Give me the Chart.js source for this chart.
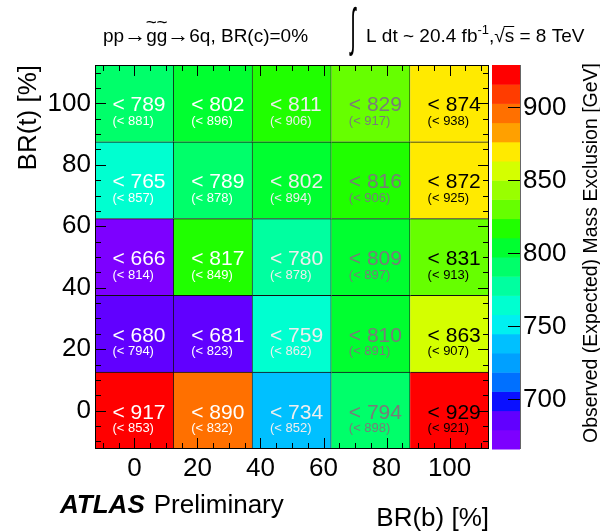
<!DOCTYPE html>
<html>
<head>
<meta charset="utf-8">
<script src="https://cdn.jsdelivr.net/npm/chart.js@4.4.1/dist/chart.umd.min.js"></script>
<style>
  html, body { margin: 0; padding: 0; background: #fff; }
  canvas { display: block; }
</style>
</head>
<body>
<canvas id="heatmap" width="600" height="532"></canvas>
<script>
// BR(b) columns and BR(t) rows, in %
const brB = [0, 25, 50, 75, 100];
const brT = [0, 25, 50, 75, 100];

// observed limit per row (BR(t) = 0 .. 100), columns follow brB
const observed = [
    [917, 890, 734, 794, 929],
    [680, 681, 759, 810, 863],
    [666, 817, 780, 809, 831],
    [765, 789, 802, 816, 872],
    [789, 802, 811, 829, 874]
];
// expected limit, same layout
const expected = [
    [853, 832, 852, 898, 921],
    [794, 823, 862, 891, 907],
    [814, 849, 878, 897, 913],
    [857, 878, 894, 906, 925],
    [881, 896, 906, 917, 938]
];

const xTicks = [0, 20, 40, 60, 80, 100];
const yTicks = [0, 20, 40, 60, 80, 100];
const zTicks = [700, 750, 800, 850, 900];

// ROOT style palette, 20 contour bands from bottom to top
const palette = [
    '#7d00ff', '#6100ff', '#0a10ff', '#0070ff', '#00a0ff',
    '#00c0ff', '#00f0f0', '#00ffd0', '#00ffa0', '#00ff6a',
    '#00ff30', '#20ff00', '#66ff00', '#99ff00', '#d4ff00',
    '#ffea00', '#ffa000', '#ff7000', '#ff3c00', '#ff0000'
];
const textColors = ['#ffffff', '#ffffff', '#eeeeee', '#7a7a7a', '#000000'];

const FONT = '"Liberation Sans", Arial, Helvetica, sans-serif';
Chart.defaults.font.family = FONT;
Chart.defaults.color = '#000';

const zMin = Math.min(...observed.flat());
const zMax = Math.max(...observed.flat());
const binW = brB[1] - brB[0];

function colorFor(v) {
    let i = Math.floor((v - zMin) / (zMax - zMin) * palette.length);
    if (i < 0) i = 0;
    if (i > palette.length - 1) i = palette.length - 1;
    return palette[i];
}

// one floating-bar dataset per BR(t) row, all sharing one slot per column
const datasets = brT.map((t, r) => ({
    label: 'BR(t) = ' + t + '%',
    data: brB.map((b, c) => ({ x: b, y: [t - binW / 2, t + binW / 2] })),
    backgroundColor: observed[r].map(colorFor),
    borderColor: '#111',
    borderWidth: { top: 1, right: 1, bottom: 0, left: 0 },
    borderSkipped: false,
    barThickness: 'flex',
    categoryPercentage: 1,
    barPercentage: 1,
    stack: 'cells'
}));

// numbers written in the cells
const cellText = {
    id: 'cellText',
    afterDatasetsDraw(chart) {
        const ctx = chart.ctx;
        ctx.save();
        ctx.textAlign = 'left';
        ctx.textBaseline = 'alphabetic';
        brT.forEach((t, r) => {
            const meta = chart.getDatasetMeta(r);
            meta.data.forEach((el, c) => {
                const cx = el.x;
                const cy = (el.y + el.base) / 2;
                ctx.fillStyle = textColors[c];
                ctx.font = '21px ' + FONT;
                ctx.fillText('< ' + observed[r][c], cx - 22, cy + 8);
                ctx.font = '13px ' + FONT;
                ctx.fillText('(< ' + expected[r][c] + ')', cx - 22, cy + 21.5);
            });
        });
        ctx.restore();
    }
};

// ROOT-like frame with inward ticks on all four sides
const frameTicks = {
    id: 'frameTicks',
    afterDatasetsDraw(chart) {
        const { ctx, chartArea: a, scales: { x, y } } = chart;
        const major = xTicks[1] - xTicks[0];
        const minor = major / 4;
        ctx.save();
        ctx.strokeStyle = '#000';
        ctx.lineWidth = 1;
        ctx.beginPath();
        for (let v = xTicks[0] - 2 * minor; v <= xTicks[xTicks.length - 1] + 2 * minor; v += minor) {
            const len = v % major === 0 ? 11 : 6;
            const px = Math.round(x.getPixelForValue(v)) + 0.5;
            ctx.moveTo(px, a.bottom); ctx.lineTo(px, a.bottom - len);
            ctx.moveTo(px, a.top); ctx.lineTo(px, a.top + len);
        }
        for (let v = yTicks[0] - 2 * minor; v <= yTicks[yTicks.length - 1] + 2 * minor; v += minor) {
            const len = v % major === 0 ? 11 : 6;
            const py = Math.round(y.getPixelForValue(v)) + 0.5;
            ctx.moveTo(a.left, py); ctx.lineTo(a.left + len, py);
            ctx.moveTo(a.right, py); ctx.lineTo(a.right - len, py);
        }
        ctx.stroke();
        ctx.strokeRect(Math.round(a.left) + 0.5, Math.round(a.top) + 0.5,
            Math.round(a.right - a.left) - 1, Math.round(a.bottom - a.top) - 1);
        ctx.restore();
    }
};

// colour scale on the right
const colorBar = {
    id: 'colorBar',
    afterDraw(chart) {
        const { ctx, chartArea: a } = chart;
        const z = chart.scales.z;
        const x0 = a.right + 3, x1 = a.right + 31;
        const n = palette.length;
        ctx.save();
        for (let i = 0; i < n; i++) {
            const lo = z.getPixelForValue(zMin + i * (zMax - zMin) / n);
            const hi = z.getPixelForValue(zMin + (i + 1) * (zMax - zMin) / n);
            ctx.fillStyle = palette[i];
            ctx.fillRect(x0, hi, x1 - x0, lo - hi + 0.5);
        }
        ctx.strokeStyle = '#000';
        ctx.lineWidth = 1;
        ctx.beginPath();
        zTicks.forEach(v => {
            const py = Math.round(z.getPixelForValue(v)) + 0.5;
            ctx.moveTo(x1 - 12, py); ctx.lineTo(x1, py);
        });
        ctx.stroke();
        ctx.strokeStyle = '#666';
        ctx.beginPath();
        ctx.moveTo(x1 + 0.5, a.top); ctx.lineTo(x1 + 0.5, a.bottom);
        ctx.stroke();

        ctx.fillStyle = '#000';
        ctx.font = '20px ' + FONT;
        ctx.translate(597, 253);
        ctx.rotate(-Math.PI / 2);
        ctx.textAlign = 'center';
        ctx.textBaseline = 'alphabetic';
        ctx.fillText('Observed (Expected) Mass Exclusion [GeV]', 0, 0, 380);
        ctx.restore();
    }
};

// process line, luminosity and ATLAS label
const headerText = {
    id: 'headerText',
    afterDraw(chart) {
        const ctx = chart.ctx;
        ctx.save();
        ctx.fillStyle = '#000';
        ctx.strokeStyle = '#000';
        ctx.textAlign = 'left';
        ctx.textBaseline = 'alphabetic';
        const base = 42;
        let x = 103;
        const put = (s, f, dy) => {
            ctx.font = f;
            ctx.fillText(s, x, base + (dy || 0));
            x += ctx.measureText(s).width;
        };
        const f19 = '19px ' + FONT;
        put('pp', f19);
        put('\u2192', '22px ' + FONT);
        for (let k = 0; k < 2; k++) {
            ctx.font = f19;
            const gw = ctx.measureText('g').width;
            ctx.fillText('g', x, base);
            const tw = ctx.measureText('~').width;
            ctx.fillText('~', x + (gw - tw) / 2, base - 14);
            x += gw;
        }
        put('\u2192', '22px ' + FONT);
        put('6q, BR(c)=0%', f19);

        // luminosity block
        ctx.save();
        ctx.font = '20px ' + FONT;
        ctx.textAlign = 'center';
        ctx.textBaseline = 'middle';
        ctx.translate(353, 31);
        ctx.scale(1, 2.6);
        ctx.fillText('\u222B', 0, 0);
        ctx.restore();

        x = 366;
        put('L dt ~ 20.4 fb', f19);
        put('-1', '13px ' + FONT, -8);
        put(',', f19);
        put('\u221A', f19);
        ctx.font = f19;
        const sw = ctx.measureText('s').width;
        ctx.fillRect(x - 1, base - 16, sw + 1, 1);
        put('s = 8 TeV', f19);

        // ATLAS Preliminary
        x = 60;
        ctx.font = 'italic bold 26px ' + FONT;
        ctx.fillText('ATLAS', x, 513);
        x += ctx.measureText('ATLAS').width + 9;
        ctx.font = '26px ' + FONT;
        ctx.fillText('Preliminary', x, 513);
        ctx.restore();
    }
};

const tickFont = { size: 26, family: FONT };

new Chart(document.getElementById('heatmap'), {
    type: 'bar',
    data: { datasets: datasets },
    options: {
        responsive: false,
        animation: false,
        devicePixelRatio: 1,
        events: [],
        layout: { padding: { top: 65, right: 0, bottom: 0, left: 0 } },
        plugins: { legend: { display: false }, tooltip: { enabled: false } },
        scales: {
            x: {
                type: 'linear',
                position: 'bottom',
                min: brB[0] - binW / 2,
                max: brB[brB.length - 1] + binW / 2,
                offset: false,
                afterBuildTicks: s => { s.ticks = xTicks.map(v => ({ value: v })); },
                afterFit: s => { s.height = 83; },
                ticks: { font: tickFont, color: '#000', padding: 4, maxRotation: 0, autoSkip: false },
                grid: { display: false, drawTicks: false, offset: false },
                border: { display: false },
                title: {
                    display: true, text: 'BR(b) [%]', align: 'end', color: '#000',
                    font: { size: 26, family: FONT, lineHeight: 1 }, padding: { top: 0, bottom: 0 }
                }
            },
            y: {
                type: 'linear',
                position: 'left',
                stacked: false,
                min: brT[0] - binW / 2,
                max: brT[brT.length - 1] + binW / 2,
                afterBuildTicks: s => { s.ticks = yTicks.map(v => ({ value: v })); },
                afterFit: s => { s.width = 95; },
                ticks: { font: tickFont, color: '#000', padding: 4 },
                grid: { display: false, drawTicks: false },
                border: { display: false },
                title: {
                    display: true, text: 'BR(t) [%]', align: 'end', color: '#000',
                    font: { size: 26, family: FONT, lineHeight: 1 }, padding: { top: 16, bottom: 0 }
                }
            },
            z: {
                axis: 'y',
                type: 'linear',
                position: 'right',
                min: zMin,
                max: zMax,
                afterBuildTicks: s => { s.ticks = zTicks.map(v => ({ value: v })); },
                afterFit: s => { s.width = 111; },
                ticks: { font: tickFont, color: '#000', padding: 34 },
                grid: { display: false, drawTicks: false },
                border: { display: false }
            }
        }
    },
    plugins: [cellText, frameTicks, colorBar, headerText]
});
</script>
</body>
</html>
